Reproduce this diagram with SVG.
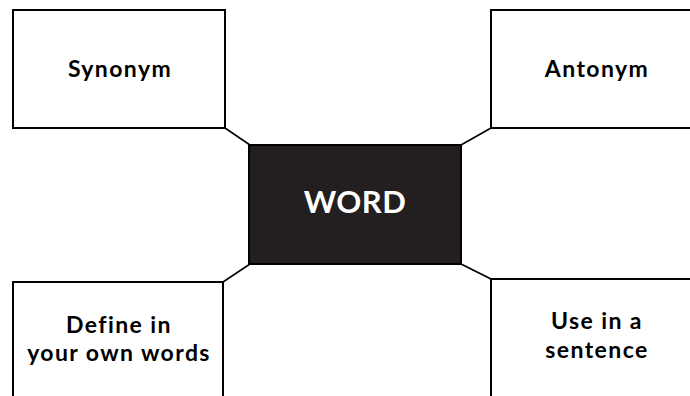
<svg xmlns="http://www.w3.org/2000/svg" width="690" height="396" viewBox="0 0 690 396">
<style>
.box{fill:#ffffff;stroke:#000000;stroke-width:2}
.center{fill:#231f20;stroke:#000000;stroke-width:2}
.lbl{font-family:Lato,"Open Sans","DejaVu Sans",sans-serif;font-weight:bold;font-size:23px;letter-spacing:1.4px;fill:#000000;text-anchor:middle}
.big{font-family:Lato,"Open Sans","DejaVu Sans",sans-serif;font-weight:bold;font-size:31px;letter-spacing:0.5px;fill:#ffffff;text-anchor:middle}
.conn{stroke:#000000;stroke-width:1.6;fill:none}
</style>
<rect width="690" height="396" fill="#ffffff"/>
<g id="connectors">
<line class="conn" x1="225" y1="128" x2="250" y2="145"/>
<line class="conn" x1="461" y1="145" x2="491" y2="128"/>
<line class="conn" x1="250" y1="264" x2="223" y2="282"/>
<line class="conn" x1="461" y1="264" x2="491" y2="279"/>
</g>
<g id="synonym">
<rect class="box" x="13" y="10" width="212" height="118"/>
<text class="lbl" x="120" y="77">Synonym</text>
</g>
<g id="antonym">
<rect class="box" x="491" y="10" width="210" height="118"/>
<text class="lbl" x="597" y="77">Antonym</text>
</g>
<g id="word">
<rect class="center" x="249" y="145" width="212" height="119"/>
<text class="big" x="355" y="213">WORD</text>
</g>
<g id="define">
<rect class="box" x="13" y="282" width="210" height="130"/>
<text class="lbl" x="119" y="333">Define in</text>
<text class="lbl" x="119" y="361">your own words</text>
</g>
<g id="use">
<rect class="box" x="491" y="279" width="210" height="130"/>
<text class="lbl" x="597" y="329">Use in a</text>
<text class="lbl" x="597" y="358">sentence</text>
</g>
</svg>
